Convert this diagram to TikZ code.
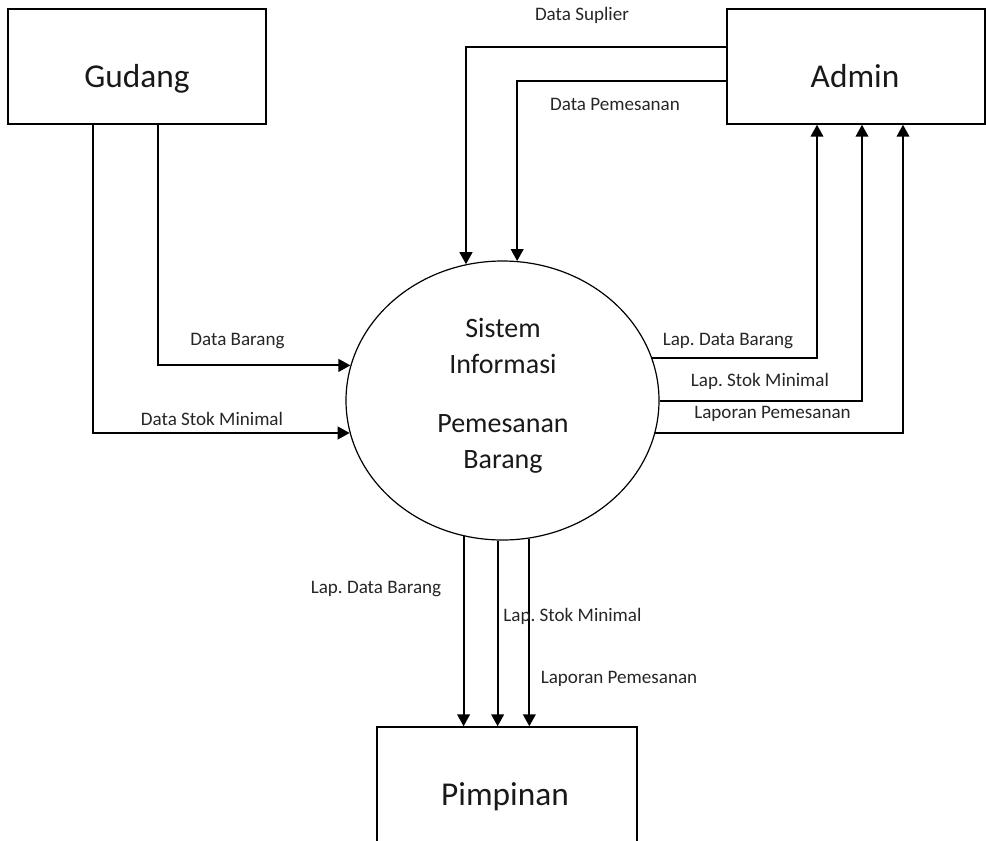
\documentclass[tikz,border=0pt]{standalone}
\usepackage{fontspec}
\setmainfont{Carlito}
\usetikzlibrary{shapes.geometric,arrows.meta}
\frenchspacing
\begin{document}
\begin{tikzpicture}[x=0.75pt,y=-0.75pt,
  entity/.style={draw,line width=1.1pt,minimum width=193.5pt,minimum height=86.25pt,inner sep=0pt},
  process/.style={draw,ellipse,line width=0.9pt,minimum width=234.75pt,minimum height=209.25pt,inner sep=0pt},
  bigtext/.style={anchor=base,font=\fontsize{25}{30}\selectfont,text=black!90},
  proctext/.style={anchor=base,font=\fontsize{21}{25}\selectfont,text=black!90},
  flowlabel/.style={anchor=base,font=\fontsize{14.3}{17}\selectfont,text=black!85},
  flow/.style={line width=1.5pt,-{Triangle[length=9pt,width=9.5pt]}}]
\useasboundingbox (0,0) rectangle (986,840);

% external entities and the process
\node[entity] (gudang) at (137,66.5) {};
\node[entity] (admin) at (856,66.5) {};
\node[entity,minimum width=195pt] (pim) at (507,784.5) {};
\node[process] (sys) at (502.5,400.5) {};

\node[bigtext] (tg) at (137,87) {Gudang};
\node[bigtext] (ta) at (855,87) {Admin};
\node[bigtext] (tp) at (505,805) {Pimpinan};

\node[proctext] (t1) at (503,337) {Sistem};
\node[proctext] (t2) at (503,373) {Informasi};
\node[proctext] (t3) at (503,432) {Pemesanan};
\node[proctext] (t4) at (503,468) {Barang};

% Admin -> system
\draw[flow] (admin.west |- 0,47) -| (sys.105.5);
\draw[flow] (admin.west |- 0,81) -| (sys.84.5);
\node[flowlabel] (l1) at (582,20) {Data Suplier};
\node[flowlabel] (l2) at (615,110) {Data Pemesanan};

% Gudang -> system
\draw[flow] (gudang.south -| 158,0) |- (sys.167.2);
\draw[flow] (gudang.south -| 93,0) |- (sys.192);
\node[flowlabel] (l3) at (237.5,345) {Data Barang};
\node[flowlabel] (l4) at (212,425) {Data Stok Minimal};

% system -> Admin
\draw[flow] (sys.16.3) -| (admin.south -| 817,0);
\draw[flow] (sys.0.9) -| (admin.south -| 862,0);
\draw[flow] (sys.348) -| (admin.south -| 903,0);
\node[flowlabel] (l5) at (728,345) {Lap. Data Barang};
\node[flowlabel] (l6) at (760,386) {Lap. Stok Minimal};
\node[flowlabel] (l7) at (772.5,418) {Laporan Pemesanan};

% system -> Pimpinan
\draw[flow] (sys.254.5) -- (sys.254.5 |- pim.north);
\draw[flow] (sys.268.6) -- (sys.268.6 |- pim.north);
\draw[flow] (sys.281.7) -- (sys.281.7 |- pim.north);
\node[flowlabel] (l8) at (376,593) {Lap. Data Barang};
\node[flowlabel] (l9) at (572.5,621) {Lap. Stok Minimal};
\node[flowlabel] (l10) at (619,683) {Laporan Pemesanan};
\end{tikzpicture}
\end{document}
